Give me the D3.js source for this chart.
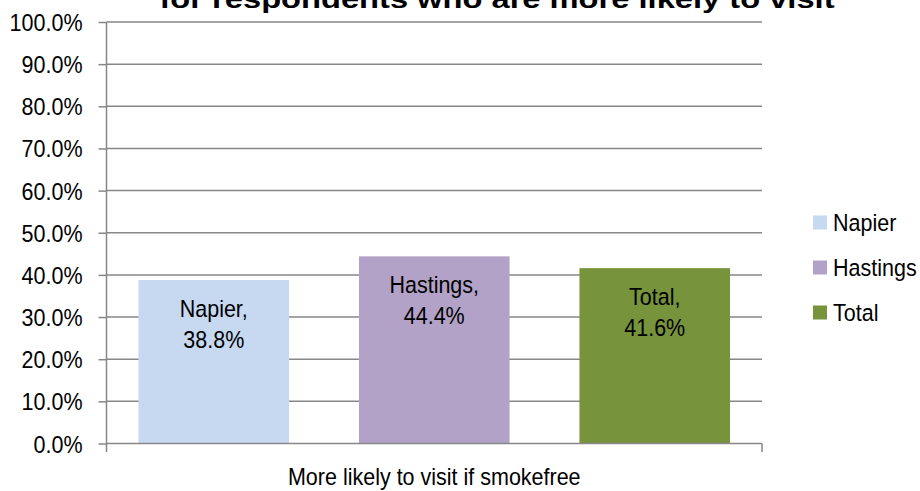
<!DOCTYPE html>
<html>
<head>
<meta charset="utf-8">
<script src="https://cdn.jsdelivr.net/npm/d3@7"></script>
<style>
  html, body { margin: 0; padding: 0; background: #fff; }
  svg { display: block; }
  text { font-family: "Liberation Sans", Arial, sans-serif; fill: #000; }
</style>
</head>
<body>
<svg id="chart" width="920" height="491"></svg>
<script>
const category = "More likely to visit if smokefree";
const seriesNames = ["Napier", "Hastings", "Total"];
const seriesValues = [38.8, 44.4, 41.6];
const seriesColors = ["#C6D9F1", "#B3A2C7", "#77933C"];
const tickValues = [0, 10, 20, 30, 40, 50, 60, 70, 80, 90, 100];
const titleText = "for respondents who are more likely to visit";

(function () {
const svg = d3.select("#chart");
const pLeft = 106.5, pRight = 762, pTop = 22, pBottom = 443.5;
const FS = 21.5, SY = 1.1;

const y = d3.scaleLinear().domain([0, 100]).range([pBottom, pTop]);
const x = d3.scaleBand().domain(seriesNames).range([pLeft, pRight])
  .paddingInner(0.317).paddingOuter(0.145);

// gridlines
svg.append("g").selectAll("line").data(tickValues.filter(d => d > 0)).join("line")
  .attr("x1", pLeft).attr("x2", pRight)
  .attr("y1", d => y(d)).attr("y2", d => y(d))
  .attr("stroke", "#878787").attr("stroke-width", 1.5);

// bars
svg.append("g").selectAll("rect").data(seriesNames).join("rect")
  .attr("x", d => x(d))
  .attr("y", (d, i) => y(seriesValues[i]))
  .attr("width", x.bandwidth())
  .attr("height", (d, i) => pBottom - y(seriesValues[i]))
  .attr("fill", (d, i) => seriesColors[i]);

// y axis
const yAxis = svg.append("g").attr("transform", `translate(${pLeft},0)`)
  .call(d3.axisLeft(y).tickValues(tickValues).tickSize(8).tickPadding(16)
    .tickFormat(d => d.toFixed(1) + "%"));
yAxis.select(".domain").remove();
yAxis.selectAll(".tick line").attr("stroke", "#878787").attr("stroke-width", 1.5);
yAxis.selectAll(".tick text")
  .attr("font-size", FS).attr("font-family", "Liberation Sans, Arial, sans-serif")
  .attr("dy", "0.36em").attr("transform", `scale(1,${SY})`).attr("fill", "#000");

// axis lines
svg.append("line").attr("x1", pLeft).attr("x2", pLeft).attr("y1", pTop).attr("y2", 452)
  .attr("stroke", "#878787").attr("stroke-width", 1.5);
svg.append("line").attr("x1", pLeft).attr("x2", pRight).attr("y1", pBottom).attr("y2", pBottom)
  .attr("stroke", "#878787").attr("stroke-width", 1.5);
svg.append("line").attr("x1", pRight).attr("x2", pRight).attr("y1", pBottom).attr("y2", 452)
  .attr("stroke", "#878787").attr("stroke-width", 1.5);

function stext(g, tx, ty, str, anchor, size) {
  return g.append("text")
    .attr("transform", `translate(${tx},${ty}) scale(1,${SY})`)
    .attr("text-anchor", anchor).attr("font-size", size || FS).text(str);
}

// bar labels
const lab = svg.append("g");
seriesNames.forEach((s, i) => {
  const cx = x(s) + x.bandwidth() / 2;
  const t = y(seriesValues[i]);
  stext(lab, cx, t + 37, s + ",", "middle");
  stext(lab, cx, t + 68, seriesValues[i].toFixed(1) + "%", "middle");
});

// x category label
stext(svg, (pLeft + pRight) / 2, 485, category, "middle");

// legend
const leg = svg.append("g");
seriesNames.forEach((s, i) => {
  const cy = 222.5 + i * 45;
  leg.append("rect").attr("x", 813).attr("y", cy - 7).attr("width", 14).attr("height", 14)
    .attr("fill", seriesColors[i]);
  stext(leg, 833, cy + 8.5, s, "start");
});

// title (partially cut off at top)
svg.append("text")
  .attr("x", 497).attr("y", 8)
  .attr("text-anchor", "middle")
  .attr("font-size", 26).attr("font-weight", "bold")
  .attr("textLength", 675).attr("lengthAdjust", "spacingAndGlyphs")
  .text(titleText);
})();
</script>
</body>
</html>
